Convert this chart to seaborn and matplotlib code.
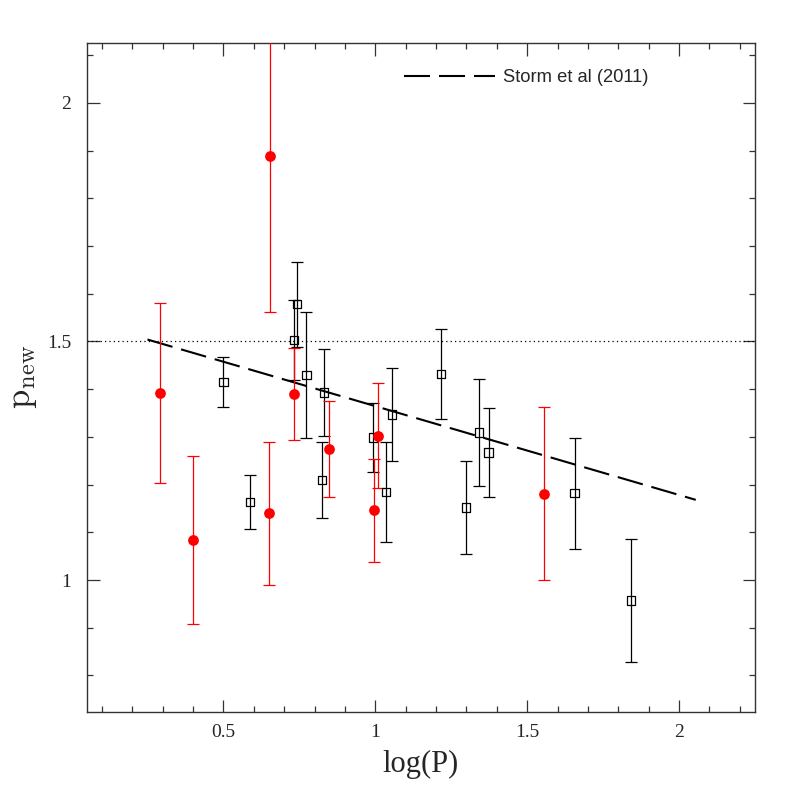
import matplotlib
matplotlib.use('Agg')
import matplotlib.pyplot as plt
import seaborn as sns
import pandas as pd
from matplotlib.ticker import MultipleLocator

# Red points (filled circles)
red_logp = [0.291, 0.401, 0.652, 0.650, 0.732, 0.848, 0.996, 1.009, 1.554]
red_p = [1.392, 1.084, 1.888, 1.140, 1.390, 1.275, 1.146, 1.302, 1.181]
red_err = [0.188, 0.176, 0.326, 0.150, 0.097, 0.100, 0.108, 0.110, 0.182]

# Black points (open squares)
blk_logp = [0.500, 0.587, 0.742, 0.732, 0.773, 0.831, 0.824, 0.992,
            1.055, 1.035, 1.216, 1.298, 1.342, 1.373, 1.656, 1.841]
blk_p = [1.415, 1.164, 1.578, 1.503, 1.429, 1.393, 1.210, 1.299,
         1.347, 1.184, 1.432, 1.152, 1.309, 1.267, 1.182, 0.957]
blk_err = [0.053, 0.057, 0.089, 0.083, 0.132, 0.092, 0.080, 0.072,
           0.097, 0.105, 0.094, 0.097, 0.112, 0.093, 0.116, 0.129]

# Storm et al (2011) relation, end points
storm_logp = [0.25, 2.055]
storm_p = [1.504, 1.168]

sns.set_style('ticks')
plt.rcParams['font.family'] = ['Liberation Serif', 'DejaVu Serif']
plt.rcParams['mathtext.fontset'] = 'cm'

fig = plt.figure(figsize=(7.97, 7.97), dpi=100)
ax = fig.add_axes([0.1088, 0.107, 0.8385, 0.8394])

red = pd.DataFrame({'logP': red_logp, 'p': red_p})
blk = pd.DataFrame({'logP': blk_logp, 'p': blk_p})

ax.axhline(1.5, color='black', lw=0.9, ls=(0, (1, 2.5)), zorder=1)
sns.lineplot(x=storm_logp, y=storm_p, ax=ax, color='black', lw=1.5,
             dashes=False, label='Storm et al (2011)', zorder=2)
ax.lines[-1].set_dashes((12.5, 4.3))

ax.errorbar(blk_logp, blk_p, yerr=blk_err, fmt='none', ecolor='black',
            elinewidth=0.9, capsize=4.5, capthick=0.9, zorder=3)
ax.errorbar(red_logp, red_p, yerr=red_err, fmt='none', ecolor='#ff0000',
            elinewidth=0.9, capsize=4.5, capthick=0.9, zorder=3)
sns.scatterplot(data=blk, x='logP', y='p', ax=ax, marker='s', s=36,
                facecolor='none', edgecolor='black', linewidth=0.9, zorder=4)
sns.scatterplot(data=red, x='logP', y='p', ax=ax, marker='o', s=60,
                color='#ff0000', edgecolor='#ff0000', linewidth=0, zorder=5)

ax.set_xlim(0.05, 2.25)
ax.set_ylim(0.724, 2.126)
ax.xaxis.set_minor_locator(MultipleLocator(0.1))
ax.yaxis.set_minor_locator(MultipleLocator(0.1))
ax.set_xticks([0.5, 1, 1.5, 2])
ax.set_xticklabels(['0.5', '1', '1.5', '2'])
ax.set_yticks([1, 1.5, 2])
ax.set_yticklabels(['1', '1.5', '2'])
ax.tick_params(which='both', direction='in', top=True, right=True,
               labelsize=14, width=0.9, color='#333333')
ax.tick_params(axis='y', pad=11)
ax.tick_params(axis='x', pad=9)
ax.tick_params(which='major', length=9)
ax.tick_params(which='minor', length=4.5)
for sp in ax.spines.values():
    sp.set_linewidth(1.0)
    sp.set_color('#333333')

ax.set_xlabel('log(P)', fontsize=22, labelpad=6)
ax.set_ylabel(r'$\mathrm{p}_{\mathrm{new}}$', fontsize=25, labelpad=6)

leg = ax.legend(loc='upper right', bbox_to_anchor=(0.865, 0.985), frameon=False,
                handlelength=5.0, handletextpad=0.4,
                prop={'family': 'Liberation Sans', 'size': 13.2})

fig.savefig('out.png', dpi=100)
